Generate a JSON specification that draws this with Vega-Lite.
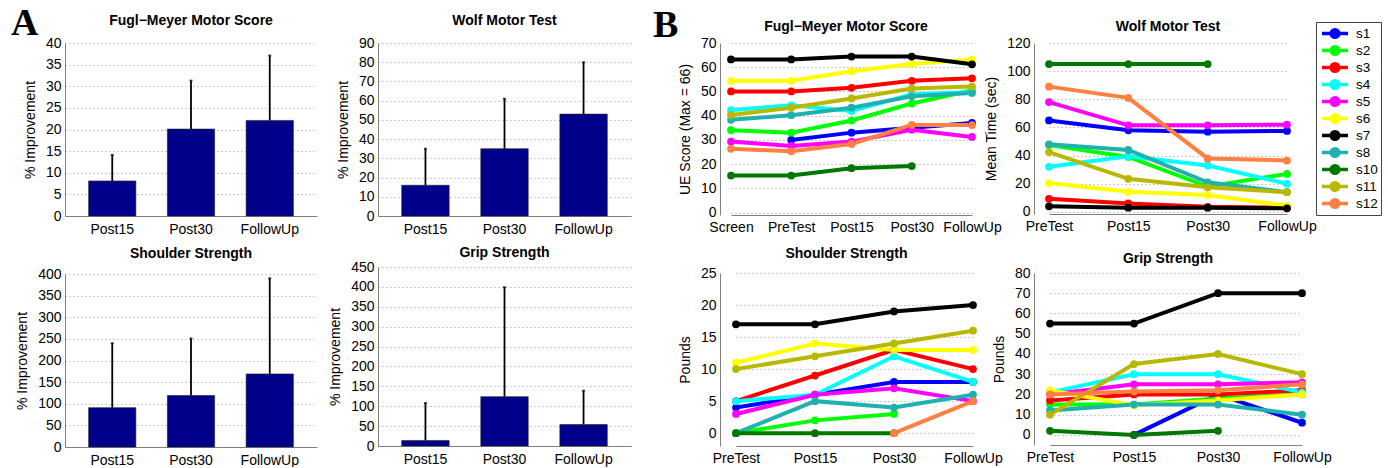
{
"$schema": "https://vega.github.io/schema/vega-lite/v6.json",
"background": "white",
"padding": {"left": 11, "top": 5, "right": 0, "bottom": 0},
"spacing": 22,
"config": {
  "font": "Liberation Sans",
  "view": {"stroke": null},
  "axis": {"labelFontSize": 14, "titleFontSize": 14, "titleFontWeight": "normal", "labelColor": "#000", "titleColor": "#000", "domainColor": "#808080", "domainWidth": 1, "ticks": false, "gridColor": "#999999", "gridDash": [1, 3], "gridWidth": 1, "labelPadding": 4, "titlePadding": 8, "labelFont": "Liberation Sans", "titleFont": "Liberation Sans"},
  "axisX": {"grid": false, "labelAngle": 0, "title": null},
  "axisY": {"grid": true},
  "title": {"fontSize": 14, "fontWeight": "bold", "color": "#000", "font": "Liberation Sans"}
},
"datasets": {
  "fmBar": [{"t":"Post15","m":8.1,"u":14.1},{"t":"Post30","m":20.1,"u":31.3},{"t":"FollowUp","m":22.1,"u":37.1}],
  "wmBar": [{"t":"Post15","m":16,"u":35},{"t":"Post30","m":35,"u":61},{"t":"FollowUp","m":53,"u":80}],
  "shBar": [{"t":"Post15","m":91,"u":240},{"t":"Post30","m":119,"u":251},{"t":"FollowUp","m":169,"u":390}],
  "grBar": [{"t":"Post15","m":14,"u":108},{"t":"Post30","m":124,"u":399},{"t":"FollowUp","m":54,"u":139}],
  "fm": [
    {"s":"s1","t":"PreTest","i":2,"v":30},{"s":"s1","t":"Post15","i":3,"v":33},{"s":"s1","t":"Post30","i":4,"v":35},{"s":"s1","t":"FollowUp","i":5,"v":37},
    {"s":"s2","t":"Screen","i":1,"v":34},{"s":"s2","t":"PreTest","i":2,"v":33},{"s":"s2","t":"Post15","i":3,"v":38},{"s":"s2","t":"Post30","i":4,"v":45},{"s":"s2","t":"FollowUp","i":5,"v":50.5},
    {"s":"s3","t":"Screen","i":1,"v":50},{"s":"s3","t":"PreTest","i":2,"v":50},{"s":"s3","t":"Post15","i":3,"v":51.5},{"s":"s3","t":"Post30","i":4,"v":54.4},{"s":"s3","t":"FollowUp","i":5,"v":55.4},
    {"s":"s4","t":"Screen","i":1,"v":42.3},{"s":"s4","t":"PreTest","i":2,"v":44.3},{"s":"s4","t":"Post15","i":3,"v":41.9},{"s":"s4","t":"Post30","i":4,"v":48.8},{"s":"s4","t":"FollowUp","i":5,"v":49.8},
    {"s":"s5","t":"Screen","i":1,"v":29.3},{"s":"s5","t":"PreTest","i":2,"v":27.5},{"s":"s5","t":"Post15","i":3,"v":29.3},{"s":"s5","t":"Post30","i":4,"v":34.2},{"s":"s5","t":"FollowUp","i":5,"v":31.2},
    {"s":"s6","t":"Screen","i":1,"v":54.4},{"s":"s6","t":"PreTest","i":2,"v":54.4},{"s":"s6","t":"Post15","i":3,"v":58.3},{"s":"s6","t":"Post30","i":4,"v":61.3},{"s":"s6","t":"FollowUp","i":5,"v":63.2},
    {"s":"s7","t":"Screen","i":1,"v":63.2},{"s":"s7","t":"PreTest","i":2,"v":63.2},{"s":"s7","t":"Post15","i":3,"v":64.4},{"s":"s7","t":"Post30","i":4,"v":64.4},{"s":"s7","t":"FollowUp","i":5,"v":61.2},
    {"s":"s8","t":"Screen","i":1,"v":38.3},{"s":"s8","t":"PreTest","i":2,"v":40.2},{"s":"s8","t":"Post15","i":3,"v":43.3},{"s":"s8","t":"Post30","i":4,"v":48},{"s":"s8","t":"FollowUp","i":5,"v":49.4},
    {"s":"s10","t":"Screen","i":1,"v":15.3},{"s":"s10","t":"PreTest","i":2,"v":15.3},{"s":"s10","t":"Post15","i":3,"v":18.3},{"s":"s10","t":"Post30","i":4,"v":19.2},
    {"s":"s11","t":"Screen","i":1,"v":40.3},{"s":"s11","t":"PreTest","i":2,"v":43.3},{"s":"s11","t":"Post15","i":3,"v":47.1},{"s":"s11","t":"Post30","i":4,"v":51.2},{"s":"s11","t":"FollowUp","i":5,"v":52},
    {"s":"s12","t":"Screen","i":1,"v":26.3},{"s":"s12","t":"PreTest","i":2,"v":25.3},{"s":"s12","t":"Post15","i":3,"v":28.3},{"s":"s12","t":"Post30","i":4,"v":36.2},{"s":"s12","t":"FollowUp","i":5,"v":36.1}
  ],
  "wm": [
    {"s":"s1","t":"PreTest","i":1,"v":65},{"s":"s1","t":"Post15","i":2,"v":58},{"s":"s1","t":"Post30","i":3,"v":57},{"s":"s1","t":"FollowUp","i":4,"v":57.5},
    {"s":"s2","t":"PreTest","i":1,"v":47.5},{"s":"s2","t":"Post15","i":2,"v":39},{"s":"s2","t":"Post30","i":3,"v":18},{"s":"s2","t":"FollowUp","i":4,"v":27},
    {"s":"s3","t":"PreTest","i":1,"v":9.3},{"s":"s3","t":"Post15","i":2,"v":6},{"s":"s3","t":"Post30","i":3,"v":3.6},{"s":"s3","t":"FollowUp","i":4,"v":3},
    {"s":"s4","t":"PreTest","i":1,"v":32},{"s":"s4","t":"Post15","i":2,"v":39.5},{"s":"s4","t":"Post30","i":3,"v":33},{"s":"s4","t":"FollowUp","i":4,"v":20},
    {"s":"s5","t":"PreTest","i":1,"v":78},{"s":"s5","t":"Post15","i":2,"v":61.5},{"s":"s5","t":"Post30","i":3,"v":61.5},{"s":"s5","t":"FollowUp","i":4,"v":62},
    {"s":"s6","t":"PreTest","i":1,"v":20.5},{"s":"s6","t":"Post15","i":2,"v":14.3},{"s":"s6","t":"Post30","i":3,"v":12},{"s":"s6","t":"FollowUp","i":4,"v":4.3},
    {"s":"s7","t":"PreTest","i":1,"v":4},{"s":"s7","t":"Post15","i":2,"v":3},{"s":"s7","t":"Post30","i":3,"v":3},{"s":"s7","t":"FollowUp","i":4,"v":2.5},
    {"s":"s8","t":"PreTest","i":1,"v":48},{"s":"s8","t":"Post15","i":2,"v":44},{"s":"s8","t":"Post30","i":3,"v":21},{"s":"s8","t":"FollowUp","i":4,"v":14},
    {"s":"s10","t":"PreTest","i":1,"v":105},{"s":"s10","t":"Post15","i":2,"v":105},{"s":"s10","t":"Post30","i":3,"v":105},
    {"s":"s11","t":"PreTest","i":1,"v":42.5},{"s":"s11","t":"Post15","i":2,"v":23.5},{"s":"s11","t":"Post30","i":3,"v":17.5},{"s":"s11","t":"FollowUp","i":4,"v":14},
    {"s":"s12","t":"PreTest","i":1,"v":89},{"s":"s12","t":"Post15","i":2,"v":81},{"s":"s12","t":"Post30","i":3,"v":38},{"s":"s12","t":"FollowUp","i":4,"v":36.5}
  ],
  "sh": [
    {"s":"s1","t":"PreTest","i":1,"v":4},{"s":"s1","t":"Post15","i":2,"v":6},{"s":"s1","t":"Post30","i":3,"v":8},{"s":"s1","t":"FollowUp","i":4,"v":8},
    {"s":"s2","t":"PreTest","i":1,"v":0},{"s":"s2","t":"Post15","i":2,"v":2},{"s":"s2","t":"Post30","i":3,"v":3},
    {"s":"s3","t":"PreTest","i":1,"v":5},{"s":"s3","t":"Post15","i":2,"v":9},{"s":"s3","t":"Post30","i":3,"v":13},{"s":"s3","t":"FollowUp","i":4,"v":10},
    {"s":"s4","t":"PreTest","i":1,"v":5},{"s":"s4","t":"Post15","i":2,"v":6},{"s":"s4","t":"Post30","i":3,"v":12},{"s":"s4","t":"FollowUp","i":4,"v":8},
    {"s":"s5","t":"PreTest","i":1,"v":3},{"s":"s5","t":"Post15","i":2,"v":6},{"s":"s5","t":"Post30","i":3,"v":7},{"s":"s5","t":"FollowUp","i":4,"v":5},
    {"s":"s6","t":"PreTest","i":1,"v":11},{"s":"s6","t":"Post15","i":2,"v":14},{"s":"s6","t":"Post30","i":3,"v":13},{"s":"s6","t":"FollowUp","i":4,"v":13},
    {"s":"s7","t":"PreTest","i":1,"v":17},{"s":"s7","t":"Post15","i":2,"v":17},{"s":"s7","t":"Post30","i":3,"v":19},{"s":"s7","t":"FollowUp","i":4,"v":20},
    {"s":"s8","t":"PreTest","i":1,"v":0},{"s":"s8","t":"Post15","i":2,"v":5},{"s":"s8","t":"Post30","i":3,"v":4},{"s":"s8","t":"FollowUp","i":4,"v":6},
    {"s":"s10","t":"PreTest","i":1,"v":0},{"s":"s10","t":"Post15","i":2,"v":0},{"s":"s10","t":"Post30","i":3,"v":0},
    {"s":"s11","t":"PreTest","i":1,"v":10},{"s":"s11","t":"Post15","i":2,"v":12},{"s":"s11","t":"Post30","i":3,"v":14},{"s":"s11","t":"FollowUp","i":4,"v":16},
    {"s":"s12","t":"Post30","i":3,"v":0},{"s":"s12","t":"FollowUp","i":4,"v":5}
  ],
  "gr": [
    {"s":"s1","t":"Post15","i":2,"v":0},{"s":"s1","t":"Post30","i":3,"v":20},{"s":"s1","t":"FollowUp","i":4,"v":6},
    {"s":"s2","t":"PreTest","i":1,"v":15},{"s":"s2","t":"Post15","i":2,"v":15},{"s":"s2","t":"Post30","i":3,"v":18},{"s":"s2","t":"FollowUp","i":4,"v":20},
    {"s":"s3","t":"PreTest","i":1,"v":17},{"s":"s3","t":"Post15","i":2,"v":20},{"s":"s3","t":"Post30","i":3,"v":20},{"s":"s3","t":"FollowUp","i":4,"v":22},
    {"s":"s4","t":"PreTest","i":1,"v":21},{"s":"s4","t":"Post15","i":2,"v":30},{"s":"s4","t":"Post30","i":3,"v":30},{"s":"s4","t":"FollowUp","i":4,"v":21},
    {"s":"s5","t":"PreTest","i":1,"v":20},{"s":"s5","t":"Post15","i":2,"v":25},{"s":"s5","t":"Post30","i":3,"v":25},{"s":"s5","t":"FollowUp","i":4,"v":26},
    {"s":"s6","t":"PreTest","i":1,"v":22},{"s":"s6","t":"Post15","i":2,"v":14.7},{"s":"s6","t":"Post30","i":3,"v":17},{"s":"s6","t":"FollowUp","i":4,"v":20},
    {"s":"s7","t":"PreTest","i":1,"v":55},{"s":"s7","t":"Post15","i":2,"v":55},{"s":"s7","t":"Post30","i":3,"v":70},{"s":"s7","t":"FollowUp","i":4,"v":70},
    {"s":"s8","t":"PreTest","i":1,"v":12},{"s":"s8","t":"Post15","i":2,"v":15},{"s":"s8","t":"Post30","i":3,"v":15},{"s":"s8","t":"FollowUp","i":4,"v":10},
    {"s":"s10","t":"PreTest","i":1,"v":2},{"s":"s10","t":"Post15","i":2,"v":0},{"s":"s10","t":"Post30","i":3,"v":2},
    {"s":"s11","t":"PreTest","i":1,"v":10},{"s":"s11","t":"Post15","i":2,"v":35},{"s":"s11","t":"Post30","i":3,"v":40},{"s":"s11","t":"FollowUp","i":4,"v":30},
    {"s":"s12","t":"PreTest","i":1,"v":20},{"s":"s12","t":"Post15","i":2,"v":21.5},{"s":"s12","t":"Post30","i":3,"v":22},{"s":"s12","t":"FollowUp","i":4,"v":25}
  ]
},
"hconcat": [
  {
    "title": {"text": "A", "font": "Liberation Serif", "fontSize": 38, "fontWeight": "bold", "orient": "none", "anchor": "start", "align": "left", "baseline": "alphabetic", "dx": -54, "dy": -8},
    "spacing": 11,
    "hconcat": [
      {"spacing": 58, "bounds": "flush", "vconcat": [
        {"width": 252, "height": 173, "title": {"text": "Fugl−Meyer Motor Score", "offset": 8}, "data": {"name": "fmBar"},
         "encoding": {"x": {"field": "t", "type": "nominal", "sort": ["Post15","Post30","FollowUp"], "scale": {"paddingInner": 0.4, "paddingOuter": 0.3}, "axis": {"labelPadding": 6}},
                      "y": {"field": "m", "type": "quantitative", "scale": {"domain": [0, 40], "nice": false}, "axis": {"title": "% Improvement", "values": [0,5,10,15,20,25,30,35,40]}}},
         "layer": [
           {"mark": {"type": "bar", "color": "#00008B", "stroke": "#222", "strokeWidth": 0.6}},
           {"mark": {"type": "rule", "color": "black", "strokeWidth": 1.8}, "encoding": {"y2": {"field": "u"}}},
           {"mark": {"type": "tick", "color": "black", "size": 3, "thickness": 2}, "encoding": {"y": {"field": "u", "type": "quantitative"}}}
         ]},
        {"width": 252, "height": 173, "title": {"text": "Shoulder Strength", "offset": 6}, "data": {"name": "shBar"},
         "encoding": {"x": {"field": "t", "type": "nominal", "sort": ["Post15","Post30","FollowUp"], "scale": {"paddingInner": 0.4, "paddingOuter": 0.3}, "axis": {"labelPadding": 6}},
                      "y": {"field": "m", "type": "quantitative", "scale": {"domain": [0, 400], "nice": false}, "axis": {"title": "% Improvement", "values": [0,50,100,150,200,250,300,350,400]}}},
         "layer": [
           {"mark": {"type": "bar", "color": "#00008B", "stroke": "#222", "strokeWidth": 0.6}},
           {"mark": {"type": "rule", "color": "black", "strokeWidth": 1.8}, "encoding": {"y2": {"field": "u"}}},
           {"mark": {"type": "tick", "color": "black", "size": 3, "thickness": 2}, "encoding": {"y": {"field": "u", "type": "quantitative"}}}
         ]}
      ]},
      {"spacing": 51, "bounds": "flush", "vconcat": [
        {"width": 253, "height": 173, "title": {"text": "Wolf Motor Test", "offset": 8}, "data": {"name": "wmBar"},
         "encoding": {"x": {"field": "t", "type": "nominal", "sort": ["Post15","Post30","FollowUp"], "scale": {"paddingInner": 0.4, "paddingOuter": 0.3}, "axis": {"labelPadding": 6}},
                      "y": {"field": "m", "type": "quantitative", "scale": {"domain": [0, 90], "nice": false}, "axis": {"title": "% Improvement", "values": [0,10,20,30,40,50,60,70,80,90]}}},
         "layer": [
           {"mark": {"type": "bar", "color": "#00008B", "stroke": "#222", "strokeWidth": 0.6}},
           {"mark": {"type": "rule", "color": "black", "strokeWidth": 1.8}, "encoding": {"y2": {"field": "u"}}},
           {"mark": {"type": "tick", "color": "black", "size": 3, "thickness": 2}, "encoding": {"y": {"field": "u", "type": "quantitative"}}}
         ]},
        {"width": 253, "height": 179, "title": {"text": "Grip Strength", "offset": 0}, "data": {"name": "grBar"},
         "encoding": {"x": {"field": "t", "type": "nominal", "sort": ["Post15","Post30","FollowUp"], "scale": {"paddingInner": 0.4, "paddingOuter": 0.3}, "axis": {"labelPadding": 6}},
                      "y": {"field": "m", "type": "quantitative", "scale": {"domain": [0, 450], "nice": false}, "axis": {"title": "% Improvement", "values": [0,50,100,150,200,250,300,350,400,450]}}},
         "layer": [
           {"mark": {"type": "bar", "color": "#00008B", "stroke": "#222", "strokeWidth": 0.6}},
           {"mark": {"type": "rule", "color": "black", "strokeWidth": 1.8}, "encoding": {"y2": {"field": "u"}}},
           {"mark": {"type": "tick", "color": "black", "size": 3, "thickness": 2}, "encoding": {"y": {"field": "u", "type": "quantitative"}}}
         ]}
      ]}
    ]
  },
  {
    "title": {"text": "B", "font": "Liberation Serif", "fontSize": 38, "fontWeight": "bold", "orient": "none", "anchor": "start", "align": "left", "baseline": "alphabetic", "dx": -67, "dy": -6},
    "spacing": -19,
    "hconcat": [
      {"spacing": 58, "bounds": "flush", "vconcat": [
        {"width": 252, "height": 172, "title": {"text": "Fugl−Meyer Motor Score", "offset": 2}, "data": {"name": "fm"},
         "encoding": {
           "x": {"field": "t", "type": "ordinal", "sort": ["Screen","PreTest","Post15","Post30","FollowUp"], "scale": {"type": "point", "range": [11, 252], "padding": 0}, "axis": {"labelPadding": 5}},
           "y": {"field": "v", "type": "quantitative", "scale": {"domain": [-1, 70], "nice": false, "zero": false}, "axis": {"title": "UE Score (Max = 66)", "values": [0,10,20,30,40,50,60,70]}},
           "color": {"field": "s", "type": "nominal", "scale": {"domain": ["s1","s2","s3","s4","s5","s6","s7","s8","s10","s11","s12"], "range": ["#0000FF","#00FF00","#FF0000","#00FFFF","#FF00FF","#FFFF00","#000000","#1FB0B0","#007800","#B8B800","#FF8040"]},
             "legend": {"orient": "none", "legendX": 1251, "legendY": -21, "title": null, "strokeColor": "#444", "fillColor": "#ffffff", "padding": 3, "labelFontSize": 13.5, "labelOffset": 23, "rowPadding": 0, "clipHeight": 17, "symbolType": "M-0.8,0H4.4M1.05,0A0.75,0.75,0,1,1,2.55,0A0.75,0.75,0,1,1,1.05,0Z", "symbolSize": 100, "symbolStrokeWidth": 3.5,
               "encode": {"symbols": {"update": {"fill": {"scale": "color", "field": "value"}, "stroke": {"scale": "color", "field": "value"}, "opacity": {"value": 1}}}}}},
           "order": {"field": "i", "type": "quantitative"}},
         "layer": [{"mark": {"type": "line", "strokeWidth": 4}}, {"mark": {"type": "point", "filled": true, "size": 60, "opacity": 1}}]},
        {"width": 253, "height": 173, "title": {"text": "Shoulder Strength", "offset": 5}, "data": {"name": "sh"},
         "encoding": {
           "x": {"field": "t", "type": "ordinal", "sort": ["PreTest","Post15","Post30","FollowUp"], "scale": {"type": "point", "range": [16, 253], "padding": 0}, "axis": {"labelPadding": 5}},
           "y": {"field": "v", "type": "quantitative", "scale": {"domain": [-2, 25], "nice": false, "zero": false}, "axis": {"title": "Pounds", "values": [0,5,10,15,20,25]}},
           "color": {"field": "s", "type": "nominal", "scale": {"domain": ["s1","s2","s3","s4","s5","s6","s7","s8","s10","s11","s12"], "range": ["#0000FF","#00FF00","#FF0000","#00FFFF","#FF00FF","#FFFF00","#000000","#1FB0B0","#007800","#B8B800","#FF8040"]},
             "legend": {"orient": "none", "legendX": 1251, "legendY": -21, "title": null, "strokeColor": "#444", "fillColor": "#ffffff", "padding": 3, "labelFontSize": 13.5, "labelOffset": 23, "rowPadding": 0, "clipHeight": 17, "symbolType": "M-0.8,0H4.4M1.05,0A0.75,0.75,0,1,1,2.55,0A0.75,0.75,0,1,1,1.05,0Z", "symbolSize": 100, "symbolStrokeWidth": 3.5,
               "encode": {"symbols": {"update": {"fill": {"scale": "color", "field": "value"}, "stroke": {"scale": "color", "field": "value"}, "opacity": {"value": 1}}}}}},
           "order": {"field": "i", "type": "quantitative"}},
         "layer": [{"mark": {"type": "line", "strokeWidth": 4}}, {"mark": {"type": "point", "filled": true, "size": 60, "opacity": 1}}]}
      ]},
      {"spacing": 59, "bounds": "flush", "vconcat": [
        {"width": 268, "height": 171, "title": {"text": "Wolf Motor Test", "offset": 2}, "data": {"name": "wm"},
         "encoding": {
           "x": {"field": "t", "type": "ordinal", "sort": ["PreTest","Post15","Post30","FollowUp"], "scale": {"type": "point", "range": [15, 253], "padding": 0}, "axis": {"labelPadding": 5}},
           "y": {"field": "v", "type": "quantitative", "scale": {"domain": [-1.5, 120], "nice": false, "zero": false}, "axis": {"title": "Mean Time (sec)", "values": [0,20,40,60,80,100,120]}},
           "color": {"field": "s", "type": "nominal", "scale": {"domain": ["s1","s2","s3","s4","s5","s6","s7","s8","s10","s11","s12"], "range": ["#0000FF","#00FF00","#FF0000","#00FFFF","#FF00FF","#FFFF00","#000000","#1FB0B0","#007800","#B8B800","#FF8040"]},
             "legend": {"orient": "none", "legendX": 1251, "legendY": -21, "title": null, "strokeColor": "#444", "fillColor": "#ffffff", "padding": 3, "labelFontSize": 13.5, "labelOffset": 23, "rowPadding": 0, "clipHeight": 17, "symbolType": "M-0.8,0H4.4M1.05,0A0.75,0.75,0,1,1,2.55,0A0.75,0.75,0,1,1,1.05,0Z", "symbolSize": 100, "symbolStrokeWidth": 3.5,
               "encode": {"symbols": {"update": {"fill": {"scale": "color", "field": "value"}, "stroke": {"scale": "color", "field": "value"}, "opacity": {"value": 1}}}}}},
           "order": {"field": "i", "type": "quantitative"}},
         "layer": [{"mark": {"type": "line", "strokeWidth": 4}}, {"mark": {"type": "point", "filled": true, "size": 60, "opacity": 1}}]},
        {"width": 268, "height": 172, "title": {"text": "Grip Strength", "offset": 0}, "data": {"name": "gr"},
         "encoding": {
           "x": {"field": "t", "type": "ordinal", "sort": ["PreTest","Post15","Post30","FollowUp"], "scale": {"type": "point", "range": [16, 268], "padding": 0}, "axis": {"labelPadding": 5}},
           "y": {"field": "v", "type": "quantitative", "scale": {"domain": [-5, 80], "nice": false, "zero": false}, "axis": {"title": "Pounds", "values": [0,10,20,30,40,50,60,70,80]}},
           "color": {"field": "s", "type": "nominal", "scale": {"domain": ["s1","s2","s3","s4","s5","s6","s7","s8","s10","s11","s12"], "range": ["#0000FF","#00FF00","#FF0000","#00FFFF","#FF00FF","#FFFF00","#000000","#1FB0B0","#007800","#B8B800","#FF8040"]},
             "legend": {"orient": "none", "legendX": 1251, "legendY": -21, "title": null, "strokeColor": "#444", "fillColor": "#ffffff", "padding": 3, "labelFontSize": 13.5, "labelOffset": 23, "rowPadding": 0, "clipHeight": 17, "symbolType": "M-0.8,0H4.4M1.05,0A0.75,0.75,0,1,1,2.55,0A0.75,0.75,0,1,1,1.05,0Z", "symbolSize": 100, "symbolStrokeWidth": 3.5,
               "encode": {"symbols": {"update": {"fill": {"scale": "color", "field": "value"}, "stroke": {"scale": "color", "field": "value"}, "opacity": {"value": 1}}}}}},
           "order": {"field": "i", "type": "quantitative"}},
         "layer": [{"mark": {"type": "line", "strokeWidth": 4}}, {"mark": {"type": "point", "filled": true, "size": 60, "opacity": 1}}]}
      ]}
    ]
  }
]
}
